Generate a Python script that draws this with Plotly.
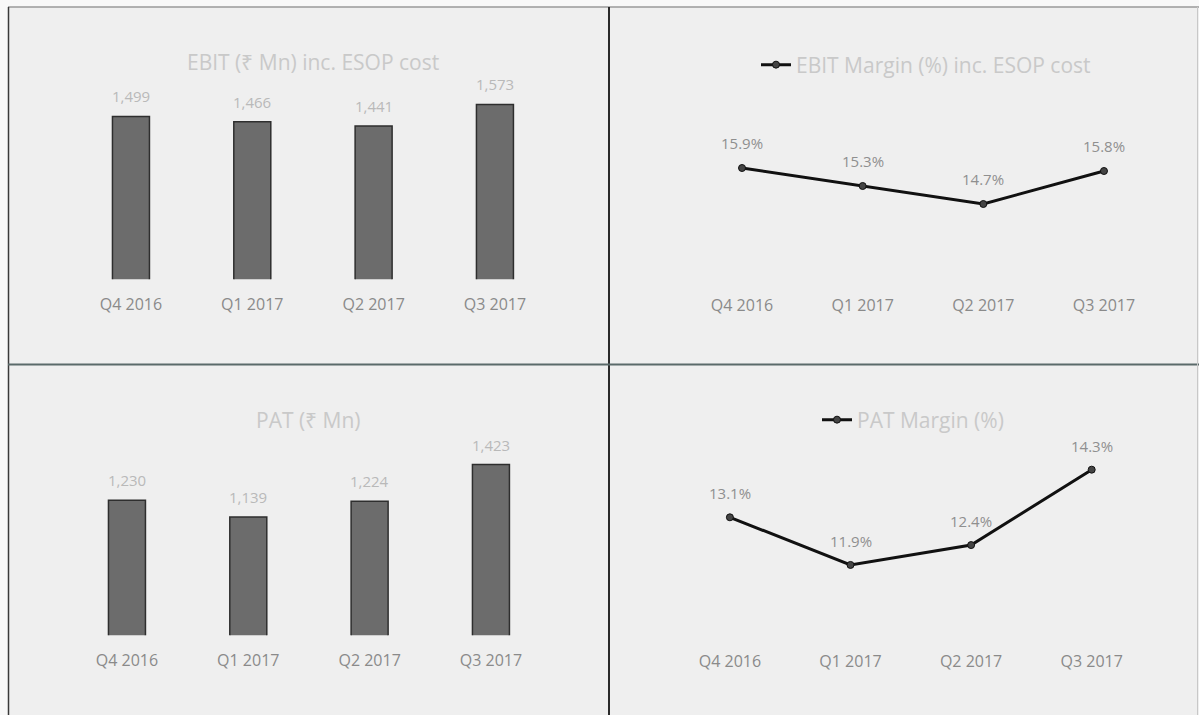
import plotly.graph_objects as go

W, H = 1199, 715

quarters = ["Q4 2016", "Q1 2017", "Q2 2017", "Q3 2017"]
ebit = [1499, 1466, 1441, 1573]
pat = [1230, 1139, 1224, 1423]
ebit_margin = [15.9, 15.3, 14.7, 15.8]
pat_margin = [13.1, 11.9, 12.4, 14.3]

FONT = "Open Sans"
BG = "#efefef"
TITLE_C = "#c9c9c9"
VAL_C = "#b9b9b9"
PCT_C = "#8f8f8f"
TICK_C = "#8a8a8a"

def px_x(p):
    return p / W

def px_y(p):
    return 1 - p / H

fig = go.Figure()

# Bar charts
fig.add_trace(go.Bar(x=quarters, y=ebit, width=0.305, xaxis="x", yaxis="y",
                     marker=dict(color="#6c6c6c", line=dict(color="#2e2e2e", width=1.5)),
                     showlegend=False, hoverinfo="skip"))
fig.add_trace(go.Bar(x=quarters, y=pat, width=0.305, xaxis="x3", yaxis="y3",
                     marker=dict(color="#6c6c6c", line=dict(color="#2e2e2e", width=1.5)),
                     showlegend=False, hoverinfo="skip"))

# Line charts
fig.add_trace(go.Scatter(x=quarters, y=ebit_margin, xaxis="x2", yaxis="y2", mode="lines+markers",
                         name="EBIT Margin (%) inc. ESOP cost", legend="legend",
                         line=dict(color="#111111", width=3),
                         marker=dict(size=7, color="#444444", line=dict(color="#111111", width=1)),
                         hoverinfo="skip"))
fig.add_trace(go.Scatter(x=quarters, y=pat_margin, xaxis="x4", yaxis="y4", mode="lines+markers",
                         name="PAT Margin (%)", legend="legend2",
                         line=dict(color="#111111", width=3),
                         marker=dict(size=7, color="#444444", line=dict(color="#111111", width=1)),
                         hoverinfo="skip"))

annotations = []
for q, v in zip(quarters, ebit):
    annotations.append(dict(x=q, y=v, xref="x", yref="y", text=f"{v:,}", showarrow=False,
                            yshift=20, font=dict(family=FONT, size=15, color=VAL_C)))
for q, v in zip(quarters, pat):
    annotations.append(dict(x=q, y=v, xref="x3", yref="y3", text=f"{v:,}", showarrow=False,
                            yshift=20, font=dict(family=FONT, size=15, color=VAL_C)))
for q, v in zip(quarters, ebit_margin):
    annotations.append(dict(x=q, y=v, xref="x2", yref="y2", text=f"{v:.1f}%", showarrow=False,
                            yshift=25, font=dict(family=FONT, size=15, color=PCT_C)))
for q, v in zip(quarters, pat_margin):
    annotations.append(dict(x=q, y=v, xref="x4", yref="y4", text=f"{v:.1f}%", showarrow=False,
                            yshift=24, font=dict(family=FONT, size=15, color=PCT_C)))

annotations.append(dict(x=px_x(313), y=px_y(62), xref="paper", yref="paper",
                        xanchor="center", yanchor="middle",
                        text="EBIT (₹ Mn) inc. ESOP cost", showarrow=False,
                        font=dict(family=FONT, size=21, color=TITLE_C)))
annotations.append(dict(x=px_x(308), y=px_y(420), xref="paper", yref="paper",
                        xanchor="center", yanchor="middle",
                        text="PAT (₹ Mn)", showarrow=False,
                        font=dict(family=FONT, size=21, color=TITLE_C)))

def xaxis(left, right):
    return dict(domain=[px_x(left), px_x(right)], type="category", range=[-0.5, 3.5],
                showgrid=False, zeroline=False, showline=False, ticks="",
                tickfont=dict(family=FONT, size=16, color=TICK_C), ticklabelstandoff=14,
                fixedrange=True)

def yaxis(top, bottom, rng):
    return dict(domain=[px_y(bottom), px_y(top)], range=rng, visible=False,
                showgrid=False, zeroline=False, fixedrange=True)

shapes = [
    # outer light margins
    dict(type="rect", xref="paper", yref="paper", x0=0, x1=px_x(8), y0=0, y1=1,
         fillcolor="#f8f8f8", line=dict(width=0), layer="below"),
    dict(type="rect", xref="paper", yref="paper", x0=0, x1=1, y0=px_y(7), y1=1,
         fillcolor="#f8f8f8", line=dict(width=0), layer="below"),
    # borders
    dict(type="line", xref="paper", yref="paper", x0=px_x(8), x1=1, y0=px_y(7), y1=px_y(7),
         line=dict(color="#9a9a9a", width=1.5)),
    dict(type="line", xref="paper", yref="paper", x0=px_x(8.5), x1=px_x(8.5), y0=0, y1=px_y(7),
         line=dict(color="#3a3a3a", width=1.5)),
    dict(type="line", xref="paper", yref="paper", x0=px_x(609), x1=px_x(609), y0=0, y1=px_y(7),
         line=dict(color="#2a2a2a", width=2)),
    dict(type="line", xref="paper", yref="paper", x0=px_x(8), x1=1, y0=px_y(364.5), y1=px_y(364.5),
         line=dict(color="#5a6a6a", width=2)),
    dict(type="line", xref="paper", yref="paper", x0=px_x(1197.5), x1=px_x(1197.5), y0=0, y1=px_y(7),
         line=dict(color="#c8c8c8", width=1)),
]

legend_font = dict(family=FONT, size=21, color=TITLE_C)

fig.update_layout(
    width=W, height=H,
    margin=dict(l=0, r=0, t=0, b=0),
    paper_bgcolor=BG, plot_bgcolor="rgba(0,0,0,0)",
    xaxis=xaxis(70.3, 555.6), yaxis=yaxis(80, 279.3, [500, 1722.7]),
    xaxis2=dict(xaxis(681.7, 1164.3), anchor="y2"), yaxis2=dict(yaxis(80, 280, [12.167, 18.833]), anchor="x2"),
    xaxis3=dict(xaxis(66.3, 551.6), anchor="y3"), yaxis3=dict(yaxis(440, 635.3, [500, 1555.7]), anchor="x3"),
    xaxis4=dict(xaxis(669.6, 1152), anchor="y4"), yaxis4=dict(yaxis(440, 636, [10.11, 15.047]), anchor="x4"),
    legend=dict(x=px_x(926), y=px_y(65), xanchor="center", yanchor="middle", orientation="h",
                bgcolor="rgba(0,0,0,0)", font=legend_font, itemwidth=30),
    legend2=dict(x=px_x(913), y=px_y(420), xanchor="center", yanchor="middle", orientation="h",
                 bgcolor="rgba(0,0,0,0)", font=legend_font, itemwidth=30),
    annotations=annotations,
    shapes=shapes,
    showlegend=True,
)

fig.write_html("out.html")
